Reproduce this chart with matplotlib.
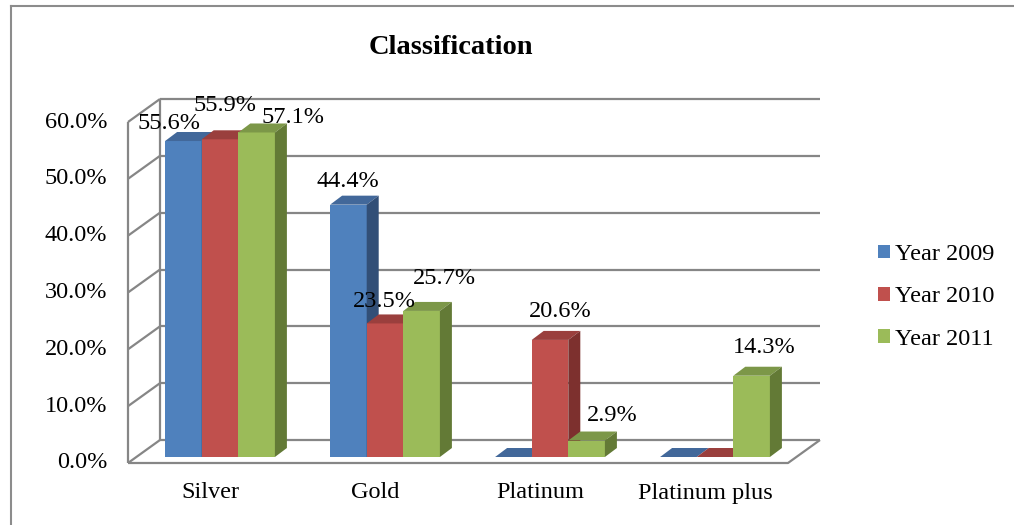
import matplotlib.pyplot as plt
from matplotlib.patches import Polygon, Patch
from matplotlib.lines import Line2D

categories = ["Silver", "Gold", "Platinum", "Platinum plus"]
series_names = ["Year 2009", "Year 2010", "Year 2011"]
year_2009 = [55.6, 44.4, 0.0, 0.0]
year_2010 = [55.9, 23.5, 20.6, 0.0]
year_2011 = [57.1, 25.7, 2.9, 14.3]
y_ticks = [0, 10, 20, 30, 40, 50, 60]

# front / top / side shades, Excel 2007 palette
colors = [
    ("#4F81BD", "#42689A", "#324F77"),
    ("#C0504D", "#9A3F3D", "#7D302E"),
    ("#9BBB59", "#7C9748", "#637A36"),
]

# label nudges in pixels (dx, gap above bar top), Excel moved a few to avoid overlaps
label_nudge = {
    (0, 0): (-14, 18), (0, 1): (5, 34), (0, 2): (36, 15),
    (1, 0): (-1, 23), (1, 1): (-1, 22), (1, 2): (23, 32),
    (2, 1): (10, 28), (2, 2): (26, 25),
    (3, 2): (13, 28),
}

W, H = 1014, 525
X0, X1, Y0, Y60 = 128, 788, 463, 122
FS = 17.5
fig = plt.figure(figsize=(W / 100, H / 100), dpi=100)
plt.rcParams["font.family"] = ["Liberation Serif", "DejaVu Serif"]

ax = fig.add_axes([X0 / W, 1 - Y0 / H, (X1 - X0) / W, (Y0 - Y60) / H])
ax.set_xlim(0, len(categories))
ax.set_ylim(0, 60)
ax.axis("off")

px_x = len(categories) / (X1 - X0)
px_y = 60 / (Y0 - Y60)

DX, DY = 32 * px_x, 23 * px_y      # depth of walls
BX, BY = 9.5 * px_x, 6 * px_y      # bar front plane offset
SX, SY = 12 * px_x, 9 * px_y       # bar depth
bar_w = 36.6 * px_x
nx = len(categories)
grid_kw = dict(color="#868686", lw=1.6, solid_capstyle="butt", clip_on=False)

# back wall gridlines + left wall diagonals
for t in y_ticks:
    ax.plot([DX, nx + DX], [t + DY, t + DY], **grid_kw)
    ax.plot([0, DX], [t, t + DY], **grid_kw)
    ax.text(-21 * px_x, t, f"{t:.1f}%", ha="right", va="center", fontsize=FS)
ax.plot([0, 0], [0, 60], **grid_kw)
ax.plot([DX, DX], [DY, 60 + DY], **grid_kw)
# floor
ax.plot([0, nx, nx + DX], [0, 0, DY], **grid_kw)

for i, cat in enumerate(categories):
    ax.text(i + 0.5, -30 * px_y, cat, ha="center", va="center", fontsize=FS)

all_series = [year_2009, year_2010, year_2011]
for i in range(nx):
    for j, vals in enumerate(all_series):
        v = vals[i]
        front, top, side = colors[j]
        left = i + 0.5 + BX - 1.5 * bar_w + j * bar_w
        ax.bar(left, v, width=bar_w, bottom=BY, align="edge", color=front,
               linewidth=0, clip_on=False, zorder=3)
        yt = BY + v
        ax.add_patch(Polygon([(left, yt), (left + bar_w, yt), (left + bar_w + SX, yt + SY),
                              (left + SX, yt + SY)], closed=True, facecolor=top,
                             linewidth=0, clip_on=False, zorder=3))
        if v > 0:
            ax.add_patch(Polygon([(left + bar_w, BY), (left + bar_w + SX, BY + SY),
                                  (left + bar_w + SX, yt + SY), (left + bar_w, yt)],
                                 closed=True, facecolor=side, linewidth=0,
                                 clip_on=False, zorder=3))
            dx, gap = label_nudge.get((i, j), (4, 24))
            ax.text(left + bar_w / 2 + dx * px_x, yt + gap * px_y, f"{v:.1f}%",
                    ha="center", va="center", fontsize=FS, zorder=5)

fig.text(451 / W, 1 - 48 / H, "Classification", ha="center", va="center",
         fontsize=20.5, fontweight="bold")

handles = [Patch(facecolor=c[0], edgecolor="none") for c in colors]
fig.legend(handles, series_names, loc="center left",
           bbox_to_anchor=(878 / W, 1 - 297 / H), frameon=False, fontsize=FS,
           handlelength=0.5, handleheight=0.5, handletextpad=0.2,
           labelspacing=0.88, borderpad=0, borderaxespad=0)

# outer chart frame (left and top edges visible)
fig.add_artist(Line2D([10.5 / W, 10.5 / W], [0, 1 - 6 / H], color="#8C8C8C", lw=1.5))
fig.add_artist(Line2D([10.5 / W, 1013 / W], [1 - 6 / H, 1 - 6 / H], color="#8C8C8C", lw=1.5))

fig.savefig("out.png", dpi=100, facecolor="white")
